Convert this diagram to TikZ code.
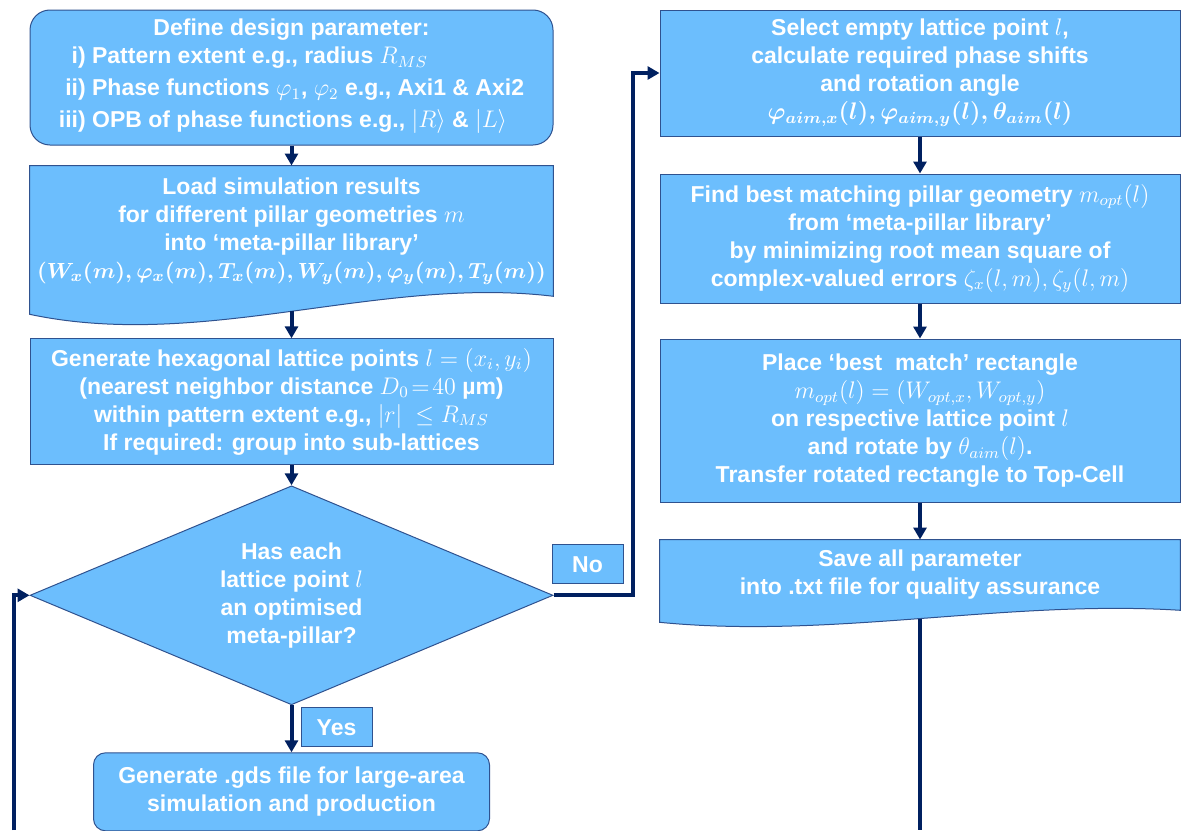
\documentclass[tikz,border=0pt]{standalone}
\usepackage{amsmath}
\usepackage{amssymb}
\usepackage{fontspec}
\setmainfont{Liberation Sans}
\usetikzlibrary{arrows.meta}
\usetikzlibrary{shapes}
\usetikzlibrary{positioning}
\usetikzlibrary{calc}
\usetikzlibrary{backgrounds}

\definecolor{boxfill}{RGB}{108,190,253}
\definecolor{boxline}{RGB}{47,82,143}
\definecolor{navy}{RGB}{0,32,96}

\begin{document}
\begin{tikzpicture}[x=0.5pt, y=-0.5pt, >={Triangle[width=6.5pt,length=6pt]},
    every node/.style={font=\bfseries\fontsize{11.5}{14}\selectfont, text=white, align=center},
    block/.style={draw=boxline, fill=boxfill, line width=0.5pt, inner sep=1pt},
    flow/.style={draw=navy, line width=2pt}]
        \useasboundingbox (0,0) rectangle (1186,830);

        % Nodes for the left column
        \node[block, rounded corners=10pt, minimum width=261.5pt, minimum height=67.5pt] (define) at (291.5,77.5)
            {Define design parameter:\\[1pt]
             \begin{tabular}{@{}r@{ }l@{}}
             i) & Pattern extent e.g., radius $R_{MS}$\\[2pt]
             ii) & Phase functions $\varphi_1$, $\varphi_2$ e.g., Axi1 \& Axi2\\[2pt]
             iii) & OPB of phase functions e.g., $|R\rangle$ \& $|L\rangle$
             \end{tabular}};
        \node[inner sep=1pt, minimum width=261.5pt, minimum height=65pt, below=10pt of define] (load)
            {Load simulation results\\ for different pillar geometries $m$\\ into ‘meta-pillar library’\\
             {\fontsize{10.8}{14}\selectfont\boldmath$(W_x(m), \varphi_x(m), T_x(m), W_y(m), \varphi_y(m), T_y(m))$}};
        \node[block, minimum width=261.5pt, minimum height=63pt, below=21pt of load] (lattice)
            {Generate hexagonal lattice points $l=(x_i,y_i)$\\ (nearest neighbor distance $D_0\!=\!40$ µm)\\
             within pattern extent e.g., $|r|\ \le R_{MS}$\\ If required: group into sub-lattices};
        \node[block, diamond, aspect=2.39, inner sep=0pt, minimum width=261.5pt, minimum height=109.5pt, below=10pt of lattice] (check)
            {Has each\\ lattice point $l$\\ an optimised\\ meta-pillar?};
        \node[block, rounded corners=6pt, minimum width=198pt, minimum height=39pt, below=23.5pt of check] (gds)
            {Generate .gds file for large-area\\ simulation and production};
        \node[block, minimum width=35.5pt, minimum height=19.5pt, below right=1pt and 4.5pt of check.south] (yes) {Yes};
        \node[block, minimum width=35.5pt, minimum height=19.5pt, above right=5.5pt and -1pt of check.east] (no) {No};

        % Nodes for the right column
        \node[block, minimum width=260pt, minimum height=63pt] (select) at (920,73)
            {Select empty lattice point $l$,\\ calculate required phase shifts\\ and rotation angle\\
             {\boldmath$\varphi_{aim,x}(l), \varphi_{aim,y}(l), \theta_{aim}(l)$}};
        \node[block, minimum width=260pt, minimum height=64.5pt, below=18.5pt of select] (match)
            {Find best matching pillar geometry $m_{opt}(l)$\\ from ‘meta-pillar library’\\
             by minimizing root mean square of\\ complex-valued errors $\zeta_x(l,m), \zeta_y(l,m)$};
        \node[block, minimum width=260pt, minimum height=81.5pt, below=17.5pt of match] (place)
            {Place ‘best\ \ match’ rectangle\\ $m_{opt}(l)=(W_{opt,x},W_{opt,y})$\\ on respective lattice point $l$\\
             and rotate by $\theta_{aim}(l)$.\\ Transfer rotated rectangle to Top-Cell};
        \node[inner sep=1pt, minimum width=260pt, minimum height=35pt, below=18.5pt of place] (save)
            {Save all parameter\\ into .txt file for quality assurance};

        % Document shapes behind the texts
        \begin{scope}[on background layer]
            \path[block] (load.north west) -- (load.north east) -- (load.south east)
                .. controls ($(load.south east)+(-174,-21)$) and ($(load.south west)+(174,55)$) .. ($(load.south west)+(0,18)$)
                coordinate[pos=0.5] (loadbot) -- cycle;
            \path[block] (save.north west) -- (save.north east) -- (save.south east)
                .. controls ($(save.south east)+(-173,-11)$) and ($(save.south west)+(173,29)$) .. ($(save.south west)+(0,12)$)
                coordinate[pos=0.5] (savebot) -- cycle;
        \end{scope}

        % Loose ends of the loop
        \coordinate (loopout) at (920,830);
        \coordinate (loopin) at (14,830);

        % Edges for the flow
        \draw[flow, ->] (define) -- (load);
        \draw[flow, ->] (loadbot) -- (loadbot |- lattice.north);
        \draw[flow, ->] (lattice) -- (check);
        \draw[flow, ->] (check) -- (gds);
        \draw[flow, ->] (check.east) -- ++(79,0) |- (select.west);
        \draw[flow, ->] (select) -- (match);
        \draw[flow, ->] (match) -- (place);
        \draw[flow, ->] (place) -- (save);
        \draw[flow] (savebot) -- (savebot |- loopout);
        \draw[flow, ->] (loopin) |- (check.west);
    \end{tikzpicture}
\end{document}
